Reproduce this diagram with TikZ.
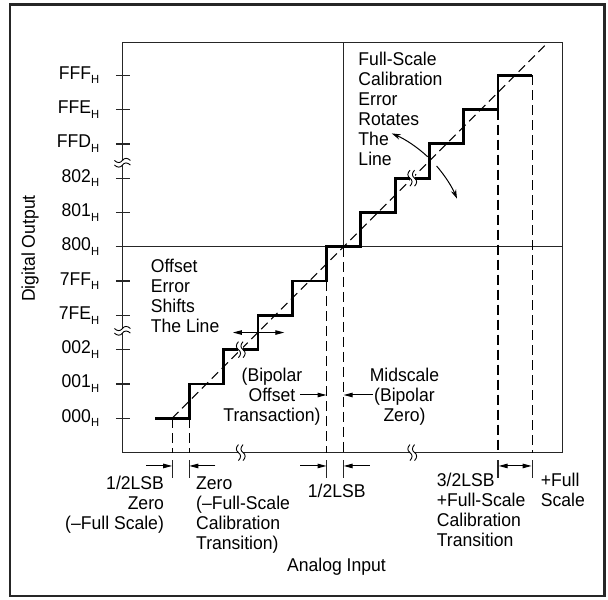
\documentclass[tikz,border=0pt]{standalone}
\usepackage{fontspec}
\setmainfont{Liberation Sans}[FakeStretch=0.95]
\usetikzlibrary{arrows.meta}
\newcommand\Hs{\raisebox{-4.7pt}{\fontsize{11.8}{12}\selectfont H}}
\newcommand\lns[2]{{\renewcommand\arraystretch{1}\begin{tabular}[t]{@{}#1@{}}#2\end{tabular}}}
\begin{document}
\begin{tikzpicture}[x=34.3pt,y=34.3pt,
  lbl/.style={inner sep=0pt, font=\fontsize{18.5}{20}\selectfont},
  stairs/.style={line width=2.8pt, line join=miter},
  frame/.style={line width=1.3pt, draw=black!85},
  dsh/.style={line width=1.3pt, dash pattern=on 10pt off 5pt},
  diag/.style={line width=1pt, dash pattern=on 9pt off 5pt},
  arr/.style={line width=1pt, -{Triangle[length=9pt,width=4.5pt]}},
  dbl/.style={line width=1pt, {Triangle[length=9pt,width=4.5pt]}-{Triangle[length=9pt,width=4.5pt]}},
  rot/.style={line width=1pt, -{Stealth[length=9pt,width=5.5pt]}},
  brk/.pic={
    \fill[white] (-2.3pt,-4pt) rectangle (2.3pt,4pt);
    \foreach \d in {-2.3pt,2.3pt}
      \draw[line width=0.9pt,shift={(\d,0)}] (0,-8pt) .. controls (2.8pt,-5pt) and (2.8pt,-2pt) .. (0,0) .. controls (-2.8pt,2pt) and (-2.8pt,5pt) .. (0,8pt);
  }
]
\useasboundingbox (-5.519,-5.297) rectangle (12.207,12.195);
% outer border
\draw[line width=2.2pt, black!85] (-5.227,-5.181) rectangle (12.105,12.064);
% plot box, midscale lines
\draw[frame] (-1.95,-1) rectangle (10.875,10.96);
\draw[frame] (-2.14,5) -- (10.875,5);
\draw[frame] (4.5,10.96) -- (4.5,5);
% y ticks and labels
\foreach \n in {0,...,10} \draw[frame] (-2.14,\n) -- (-1.72,\n);
\foreach \n/\t in {0/000,1/001,2/002,3/7FE,4/7FF,5/800,6/801,7/802,8/FFD,9/FFE,10/FFF}
  \node[lbl,anchor=base east] (y\n) at (-2.624,\n-0.117) {\t\Hs};
% dashed verticals
\draw[dsh] (-0.5,0) -- (-0.5,-1);
\draw[dsh] (0,0) -- (0,-1);
\draw[dsh] (4,4) -- (4,-1);
\draw[dsh] (4.5,5) -- (4.5,-1);
\draw[dsh] (9,9) -- (9,-1);
\draw[dsh] (10,10) -- (10,-1);
% ideal line
\draw[diag] (-0.5,0) -- (10.46,10.96);
% staircase
\draw[stairs] (-1,0) -| (0,1) -| (1,2) -| (2,3) -| (3,4) -| (4,5) -| (5,6) -| (6,7) -| (7,8) -| (8,9) -| (9,10) -- (10,10);
% breaks
\pic at (1.5,-1) {brk};
\pic at (6.5,-1) {brk};
\pic at (1.5,2) {brk};
\pic at (6.5,7) {brk};
\pic[rotate=90] at (-1.95,2.55) {brk};
\pic[rotate=90] at (-1.95,7.45) {brk};
% offset error arrow
\draw[dbl] (1.27,2.5) -- (2.77,2.5);
% full-scale rotation arcs
\draw[rot] ([shift={(47:3.59)}]4.5,5) arc[start angle=47, end angle=67, radius=3.59];
\draw[rot] ([shift={(41:3.59)}]4.5,5) arc[start angle=41, end angle=23, radius=3.59];
% inner arrows
\draw[arr] (3.227,0.679) -- (4,0.679);
\draw[arr] (5.353,0.679) -- (4.5,0.679);
% bottom ticks and arrows
\foreach \x in {-0.5,0,4,4.5,9,10} \draw[frame] (\x,-1.23) -- (\x,-1.75);
\draw[arr] (-1.26,-1.39) -- (-0.5,-1.39);
\draw[arr] (0.76,-1.39) -- (0,-1.39);
\draw[arr] (3.24,-1.39) -- (4,-1.39);
\draw[arr] (5.26,-1.39) -- (4.5,-1.39);
\draw[dbl] (9.02,-1.39) -- (9.98,-1.39);
% texts
\node[lbl,anchor=base west] (offs) at (-1.125,4.257) {\lns{l}{Offset\\Error\\Shifts\\The Line}};
\node[lbl,anchor=base west] (fsc) at (4.927,10.271) {\lns{l}{Full-Scale\\Calibration\\Error\\Rotates\\The\\Line}};
\node[lbl,anchor=base] (bot) at (2.411,1.058) {\lns{c}{(Bipolar\\Offset\\Transaction)}};
\node[lbl,anchor=base] (mid) at (6.274,1.058) {\lns{c}{Midscale\\(Bipolar\\Zero)}};
\node[lbl,anchor=base east] (lzero) at (-0.735,-2.07) {\lns{r}{1/2LSB\\Zero\\(–Full Scale)}};
\node[lbl,anchor=base west] (zero) at (0.195,-2.07) {\lns{l}{Zero\\(–Full-Scale\\Calibration\\Transition)}};
\node[lbl,anchor=base] (half) at (4.3,-2.303) {1/2LSB};
\node[lbl,anchor=base west] (tq) at (7.213,-1.994) {\lns{l}{3/2LSB\\+Full-Scale\\Calibration\\Transition}};
\node[lbl,anchor=base west] (fs) at (10.245,-1.994) {\lns{l}{+Full\\Scale}};
\node[lbl,anchor=base] (ai) at (4.29,-4.48) {Analog Input};
\node[lbl,rotate=90,anchor=base] (do) at (-4.499,4.95) {Digital Output};
\end{tikzpicture}
\end{document}
